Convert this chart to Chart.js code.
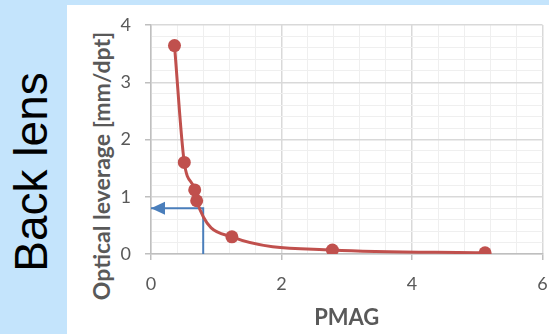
<!DOCTYPE html>
<html>
<head>
<meta charset="utf-8">
<script src="https://cdn.jsdelivr.net/npm/chart.js@4/dist/chart.umd.min.js"></script>
<style>
  html, body { margin: 0; padding: 0; }
  body { width: 549px; height: 334px; background: #c4e4fc; position: relative; overflow: hidden; }
  #panel { position: absolute; left: 67px; top: 5px; width: 482px; height: 329px; background: #ffffff; }
  #side {
    position: absolute; left: 31px; top: 172px;
    transform: translate(-50%, -50%) rotate(-90deg);
    font: 46px "Liberation Sans", Arial, sans-serif; line-height: 46px;
    color: #000; white-space: nowrap;
  }
  #ytitle {
    position: absolute; left: 101px; top: 166px;
    transform: translate(-50%, -50%) rotate(-90deg);
    font: bold 23px Lato, "Open Sans", sans-serif; line-height: 23px;
    color: #595959; white-space: nowrap;
  }
  canvas { position: absolute; left: 0; top: 0; }
</style>
</head>
<body>
<div id="panel"></div>
<div id="side">Back lens</div>
<div id="ytitle">Optical leverage [mm/dpt]</div>
<canvas id="chart" width="549" height="334"></canvas>
<script>
// Measured optical leverage of the back lens against PMAG
const pmag = [0.36, 0.51, 0.67, 0.70, 1.24, 2.78, 5.12];
const leverage = [3.64, 1.60, 1.12, 0.93, 0.30, 0.07, 0.02];

// Guide arrow: up from PMAG 0.8 to the curve, then left to the axis
const arrowX = [0.8, 0.8, 0];
const arrowY = [0, 0.8, 0.8];

// Labelled (major) ticks; the minor grid sits between them
const xMajorTicks = [0, 2, 4, 6];
const yMajorTicks = [0, 1, 2, 3, 4];

const isMajor = (list, v) => list.some(t => Math.abs(t - v) < 1e-6);

const arrowHead = {
  id: 'arrowHead',
  afterDatasetsDraw(chart) {
    const meta = chart.getDatasetMeta(1);
    const pts = meta.data;
    if (pts.length < 2) return;
    const tip = pts[pts.length - 1];
    const prev = pts[pts.length - 2];
    const ang = Math.atan2(tip.y - prev.y, tip.x - prev.x);
    const len = 14, half = 6.5;
    const ctx = chart.ctx;
    ctx.save();
    ctx.translate(tip.x, tip.y);
    ctx.rotate(ang);
    ctx.beginPath();
    ctx.moveTo(0, 0);
    ctx.lineTo(-len, -half);
    ctx.lineTo(-len, half);
    ctx.closePath();
    ctx.fillStyle = '#4a7ebb';
    ctx.fill();
    ctx.restore();
  }
};

const tickFont = { family: 'Lato, "Open Sans", sans-serif', size: 18 };

new Chart(document.getElementById('chart'), {
  type: 'line',
  data: {
    datasets: [
      {
        data: pmag.map((x, i) => ({ x, y: leverage[i] })),
        borderColor: '#c0504d',
        backgroundColor: '#c0504d',
        borderWidth: 3,
        pointRadius: 6.5,
        pointHoverRadius: 6.5,
        pointBorderWidth: 0,
        cubicInterpolationMode: 'monotone',
        fill: false
      },
      {
        data: arrowX.map((x, i) => ({ x, y: arrowY[i] })),
        borderColor: '#4a7ebb',
        borderWidth: 2,
        pointRadius: 0,
        tension: 0,
        fill: false
      }
    ]
  },
  options: {
    responsive: false,
    animation: false,
    events: [],
    layout: { padding: { left: 110, right: 4, top: 25, bottom: 0 } },
    plugins: { legend: { display: false }, tooltip: { enabled: false } },
    scales: {
      x: {
        type: 'linear',
        min: 0, max: 6,
        afterFit(scale) { scale.height = 80; scale.paddingRight = 0; },
        border: { display: true, color: '#bfbfbf', width: 1.5 },
        grid: {
          color: c => isMajor(xMajorTicks, c.tick.value) ? '#d9d9d9' : '#efefef',
          lineWidth: c => isMajor(xMajorTicks, c.tick.value) ? 1.5 : 1,
          tickColor: c => isMajor(xMajorTicks, c.tick.value) ? '#bfbfbf' : 'rgba(0,0,0,0)',
          tickLength: 6
        },
        ticks: {
          stepSize: 0.4,
          autoSkip: false,
          maxRotation: 0,
          maxTicksLimit: 100,
          padding: 13,
          color: '#595959',
          font: tickFont,
          callback: v => isMajor(xMajorTicks, v) ? String(Math.round(v)) : ''
        },
        title: {
          display: true,
          text: 'PMAG',
          color: '#595959',
          font: { family: 'Lato, "Open Sans", sans-serif', size: 22, weight: 'bold' },
          padding: { top: 0, bottom: 3 }
        }
      },
      y: {
        type: 'linear',
        min: 0, max: 4,
        afterFit(scale) { scale.width = 41; },
        border: { display: true, color: '#bfbfbf', width: 1.5 },
        grid: {
          color: c => isMajor(yMajorTicks, c.tick.value) ? '#d9d9d9' : '#efefef',
          lineWidth: c => isMajor(yMajorTicks, c.tick.value) ? 1.5 : 1,
          tickColor: c => isMajor(yMajorTicks, c.tick.value) ? '#bfbfbf' : 'rgba(0,0,0,0)',
          tickLength: 6
        },
        ticks: {
          stepSize: 0.2,
          autoSkip: false,
          maxTicksLimit: 100,
          padding: 14,
          color: '#595959',
          font: tickFont,
          callback: v => isMajor(yMajorTicks, v) ? String(Math.round(v)) : ''
        }
      }
    }
  },
  plugins: [arrowHead]
});
</script>
</body>
</html>
